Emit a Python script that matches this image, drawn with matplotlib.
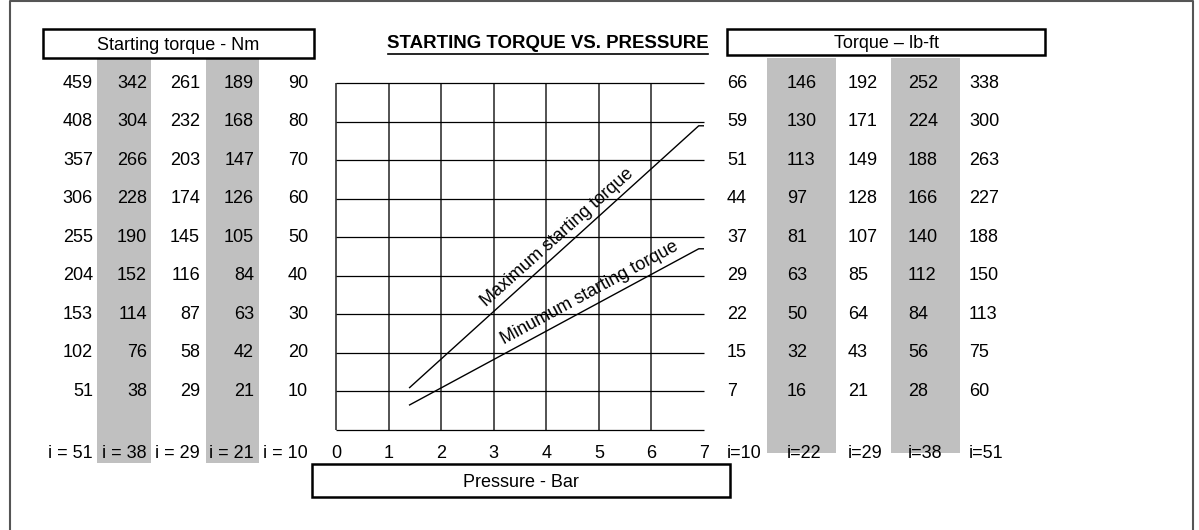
import matplotlib
matplotlib.use("Agg")
import matplotlib.pyplot as plt
from matplotlib.patches import Rectangle
from matplotlib import transforms

plt.rcParams['font.family'] = ['Liberation Sans', 'DejaVu Sans']

# ---------------- data ----------------
pressure_ticks = [0, 1, 2, 3, 4, 5, 6, 7]
grid_levels = [90, 80, 70, 60, 50, 40, 30, 20, 10]

nm_i10 = [90, 80, 70, 60, 50, 40, 30, 20, 10]
nm_i21 = [189, 168, 147, 126, 105, 84, 63, 42, 21]
nm_i29 = [261, 232, 203, 174, 145, 116, 87, 58, 29]
nm_i38 = [342, 304, 266, 228, 190, 152, 114, 76, 38]
nm_i51 = [459, 408, 357, 306, 255, 204, 153, 102, 51]
nm_labels = ["i = 51", "i = 38", "i = 29", "i = 21", "i = 10"]

lbft_i10 = [66, 59, 51, 44, 37, 29, 22, 15, 7]
lbft_i22 = [146, 130, 113, 97, 81, 63, 50, 32, 16]
lbft_i29 = [192, 171, 149, 128, 107, 85, 64, 43, 21]
lbft_i38 = [252, 224, 188, 166, 140, 112, 84, 56, 28]
lbft_i51 = [338, 300, 263, 227, 188, 150, 113, 75, 60]
lbft_labels = ["i=10", "i=22", "i=29", "i=38", "i=51"]

max_x = [1.4, 6.9, 7.0]
max_y = [11.0, 78.9, 78.9]
min_x = [1.4, 6.9, 7.0]
min_y = [6.5, 47.0, 47.0]

# ---------------- figure ----------------
W, H = 1199, 530
fig = plt.figure(figsize=(W / 100, H / 100), dpi=100)

# overlay axes in pixel coordinates
ov = fig.add_axes([0, 0, 1, 1])
ov.set_xlim(0, W)
ov.set_ylim(H, 0)
ov.axis('off')

# main chart axes: x 0..7 -> px 336..704 ; y 0..90 -> px 430..83
x0, x1, y0, y1 = 336, 704, 430, 83
ax = fig.add_axes([x0 / W, (H - y0) / H, (x1 - x0) / W, (y0 - y1) / H])
ax.set_xlim(0, 7)
ax.set_ylim(0, 90)
ax.axis('off')
ax.patch.set_alpha(0)

ax.vlines(pressure_ticks[:-1], 0, 90, color='#444444', lw=1.3, clip_on=False)
ax.hlines([0] + grid_levels, 0, 7, color='black', lw=0.9, clip_on=False)
ax.plot(max_x, max_y, color='black', lw=1.0)
ax.plot(min_x, min_y, color='black', lw=1.0)

ax.text(4.2, 50.0, "Maximum starting torque", rotation=41.8, rotation_mode='anchor',
        ha='center', va='center', fontsize=13)
ax.text(4.83, 35.6, "Minumum starting torque", rotation=28.5, rotation_mode='anchor',
        ha='center', va='center', fontsize=13)

FS = 13
# x tick labels
for p in pressure_ticks:
    ov.text(x0 + p * (x1 - x0) / 7, 453, str(p), ha='center', va='center', fontsize=FS)

# blended transform: x in pixels, y in data
bt = transforms.blended_transform_factory(ov.transData, ax.transData)

gray = '#c0c0c0'
# left gray bands
for (l, r) in [(97, 151), (206, 259)]:
    ov.add_patch(Rectangle((l, 58), r - l, 463 - 58, color=gray, lw=0, zorder=0))
# right gray bands
for (l, r) in [(767, 836), (891, 960)]:
    ov.add_patch(Rectangle((l, 58), r - l, 453 - 58, color=gray, lw=0, zorder=0))

left_cols = [(93, nm_i51), (147, nm_i38), (200, nm_i29), (254, nm_i21), (308, nm_i10)]
for (xr, vals), lab in zip(left_cols, nm_labels):
    for lv, v in zip(grid_levels, vals):
        ov.text(xr, lv, str(v), transform=bt, ha='right', va='center', fontsize=FS)
    ov.text(xr, 453, lab, ha='right', va='center', fontsize=FS)

right_cols = [(727, lbft_i10), (787, lbft_i22), (848, lbft_i29), (908, lbft_i38), (969, lbft_i51)]
for (xl, vals), lab in zip(right_cols, lbft_labels):
    for lv, v in zip(grid_levels, vals):
        ov.text(xl, lv, str(v), transform=bt, ha='left', va='center', fontsize=FS)
    ov.text(xl, 453, lab, ha='left', va='center', fontsize=FS, zorder=3)

# header boxes
def box(l, t, r, b, label):
    ov.add_patch(Rectangle((l, t), r - l, b - t, fill=False, ec='black', lw=1.8, zorder=4))
    ov.text((l + r) / 2, (t + b) / 2, label, ha='center', va='center_baseline',
            fontsize=FS, zorder=5)

box(43, 29, 314, 58, "Starting torque - Nm")
box(727, 29, 1045, 55, "Torque \u2013 lb-ft")
box(312, 464, 730, 497, "Pressure - Bar")

# title with underline
ov.text(548, 44, "STARTING TORQUE VS. PRESSURE", ha='center', va='center',
        fontsize=13.4, fontweight='bold')
ov.plot([388, 708], [53.5, 53.5], color='black', lw=1.2)

# outer frame
ov.plot([10, 10, 1193, 1193], [H + 5, 0.8, 0.8, H + 5], color='#555555', lw=1.5,
        clip_on=False)

fig.savefig("out.png", dpi=100)
